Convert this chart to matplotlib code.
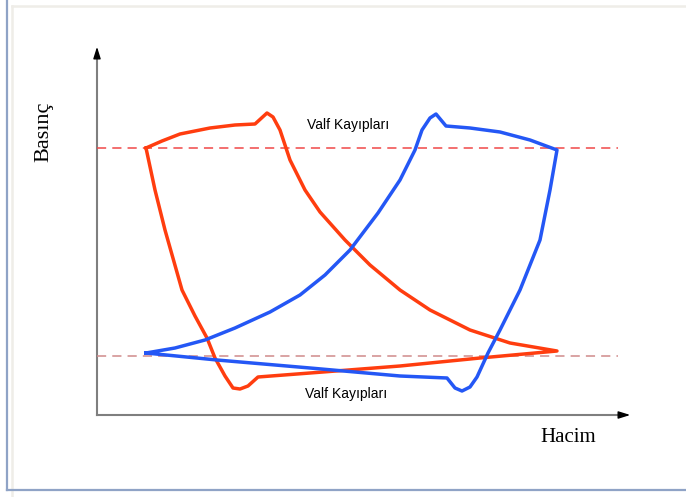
import matplotlib
matplotlib.use("Agg")
import matplotlib.pyplot as plt

# Curve data (horizontal = volume, vertical = pressure, in picture units; pressure axis points downward)
red_v = [146, 162, 180, 210, 235, 255, 267, 273, 280, 290, 305, 320, 345, 370, 400, 430, 470, 510, 557,
         480, 400, 310, 258, 248, 240, 233, 225, 215, 207, 195, 182, 165, 155, 146]
red_p = [148, 141, 134, 128, 125, 124, 113, 117, 130, 160, 190, 212, 240, 265, 290, 310, 330, 343, 351,
         358, 366, 373, 377, 386, 389, 388, 376, 358, 338, 316, 290, 230, 190, 148]

blue_v = [146, 175, 205, 235, 270, 300, 325, 350, 378, 400, 415, 422, 430, 436, 446, 470, 500, 530, 557,
          550, 540, 520, 500, 488, 477, 470, 462, 455, 447, 400, 310, 217, 146]
blue_p = [353, 348, 340, 328, 312, 295, 275, 250, 213, 180, 150, 130, 118, 114, 126, 128, 132, 140, 150,
          190, 240, 290, 330, 353, 377, 387, 391, 388, 378, 376, 368, 360, 353]

upper_level = 148
lower_level = 356

fig = plt.figure(figsize=(6.86, 4.97), dpi=100)
ax = fig.add_axes([0, 0, 1, 1])
ax.set_xlim(0, 686)
ax.set_ylim(497, 0)
ax.axis("off")

# slide frame
ax.plot([12, 686], [5.5, 5.5], color="#EFEDE8", lw=1.8)
ax.plot([12, 12], [5.5, 497], color="#EFEDE8", lw=1.8)
ax.plot([7, 7], [0, 490], color="#8FA3C6", lw=1.6)
ax.plot([7, 686], [490, 490], color="#8FA3C6", lw=1.6)

# axes with arrows
ax.plot([97, 97], [415, 55], color="#7F7F7F", lw=1.5)
ax.plot([97, 625], [415, 415], color="#7F7F7F", lw=1.5)
ax.annotate("", xy=(97, 44), xytext=(97, 58),
            arrowprops=dict(arrowstyle="-|>,head_length=0.7,head_width=0.22", color="black", lw=1))
ax.annotate("", xy=(633, 415), xytext=(618, 415),
            arrowprops=dict(arrowstyle="-|>,head_length=0.7,head_width=0.22", color="black", lw=1))

# reference dashed levels
ax.plot([97, 618], [upper_level, upper_level], color="#F04848", lw=1.1, dashes=(6, 4))
ax.plot([97, 618], [lower_level, lower_level], color="#D08A8A", lw=1.1, dashes=(6, 4))

# curves
ax.plot(red_v, red_p, color="#FF3D0F", lw=2.5, solid_joinstyle="round")
ax.plot(blue_v, blue_p, color="#2457F5", lw=2.5, solid_joinstyle="round")

# texts
ax.text(348, 125, "Valf Kayıpları", fontsize=10, family="Liberation Sans", ha="center", va="center")
ax.text(346, 394, "Valf Kayıpları", fontsize=10, family="Liberation Sans", ha="center", va="center")
ax.text(44, 132, "Basınç", fontsize=16, family="Liberation Serif", rotation=90, ha="center", va="center")
ax.text(568, 438, "Hacim", fontsize=15, family="Liberation Serif", ha="center", va="center")

fig.savefig("out.png", dpi=100)
